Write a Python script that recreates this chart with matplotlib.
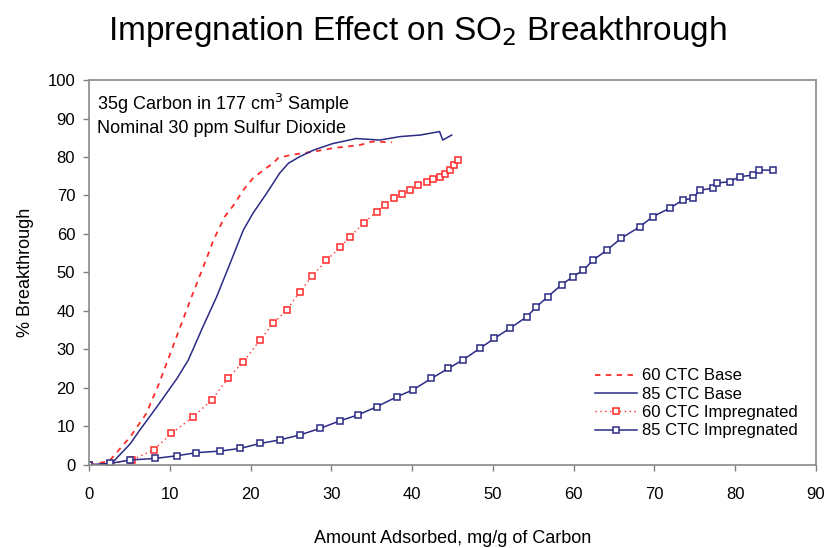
import matplotlib.pyplot as plt

plt.rcParams["font.family"] = ["Liberation Sans", "DejaVu Sans"]

# 60 CTC Base
base60_x = [0, 2.5, 5.1, 7.1, 8.6, 10.0, 11.3, 12.7, 13.5, 14.8, 15.4, 16.8, 17.9,
            19.1, 20.3, 21.6, 22.8, 23.4, 24.9, 26.5, 27.8, 30.2, 33.5, 35.1, 37.5]
base60_y = [0, 1.0, 7.3, 13.4, 20.8, 28.6, 35.9, 43.7, 48.0, 55.0, 58.4, 64.5, 67.5,
            71.4, 74.5, 76.6, 78.4, 79.7, 80.5, 81.0, 81.4, 82.3, 83.1, 84.0, 83.8]

# 85 CTC Base
base85_x = [0, 2.8, 5.1, 6.3, 8.4, 10.9, 12.3, 14.1, 15.8, 17.3, 19.1, 20.3, 22.0,
            23.6, 24.7, 26.1, 27.8, 30.2, 33.1, 36.0, 38.5, 41.0, 43.4, 43.8, 44.9]
base85_y = [0, 0.4, 5.5, 9.1, 15.1, 22.5, 27.3, 35.9, 43.7, 51.5, 61.0, 65.4, 70.6,
            75.8, 78.4, 80.1, 81.8, 83.5, 84.8, 84.4, 85.3, 85.7, 86.6, 84.4, 85.7]

# 60 CTC Impregnated
imp60_x = [0, 2.6, 5.3, 8.0, 10.2, 12.9, 15.2, 17.2, 19.1, 21.2, 22.8, 24.5, 26.1,
           27.6, 29.4, 31.1, 32.3, 34.0, 35.6, 36.6, 37.7, 38.7, 39.7, 40.7, 41.8,
           42.6, 43.4, 44.1, 44.7, 45.2, 45.7]
imp60_y = [0, 0.3, 1.3, 3.9, 8.2, 12.5, 16.9, 22.5, 26.8, 32.5, 36.8, 40.3, 45.0,
           49.0, 53.2, 56.5, 59.3, 62.8, 65.8, 67.6, 69.3, 70.4, 71.4, 72.6, 73.6,
           74.3, 74.9, 75.6, 76.6, 77.8, 79.2]

# 85 CTC Impregnated
imp85_x = [0, 2.6, 5.1, 8.2, 10.9, 13.3, 16.2, 18.7, 21.2, 23.6, 26.1, 28.6, 31.1,
           33.3, 35.6, 38.1, 40.1, 42.4, 44.5, 46.3, 48.4, 50.2, 52.1, 54.2, 55.4,
           56.8, 58.5, 59.9, 61.2, 62.4, 64.1, 65.9, 68.2, 69.8, 71.9, 73.5, 74.8,
           75.6, 77.3, 77.7, 79.3, 80.6, 82.2, 83.0, 84.7]
imp85_y = [0, 0.4, 1.3, 1.7, 2.4, 3.2, 3.6, 4.3, 5.6, 6.5, 7.8, 9.5, 11.5,
           13.0, 15.1, 17.7, 19.5, 22.5, 25.1, 27.3, 30.3, 32.9, 35.5, 38.5, 41.1,
           43.7, 46.8, 48.9, 50.6, 53.2, 55.8, 58.9, 61.9, 64.5, 66.7, 68.8, 69.3,
           71.4, 71.9, 73.2, 73.6, 74.9, 75.3, 76.6, 76.6]

RED = "#ff2a2a"
NAVY = "#2b2b85"

fig = plt.figure(figsize=(8.36, 5.48), dpi=100)
ax = fig.add_axes([0.1065, 0.1515, 0.8695, 0.7025])

ax.plot(base60_x, base60_y, color=RED, lw=1.3, ls=(0, (3, 3)), label="60 CTC Base")
ax.plot(base85_x, base85_y, color=NAVY, lw=1.1, label="85 CTC Base")
ax.plot(imp60_x, imp60_y, color=RED, lw=1.0, ls=(0, (1, 2.5)), marker="s",
        ms=5, mfc="white", mec=RED, mew=1.1, label="60 CTC Impregnated")
ax.plot(imp85_x, imp85_y, color=NAVY, lw=1.1, marker="s", ms=4,
        mfc="white", mec=NAVY, mew=1.1, label="85 CTC Impregnated")

ax.set_xlim(0, 90)
ax.set_ylim(0, 100)
ax.set_xticks(range(0, 91, 10))
ax.set_yticks(range(0, 101, 10))
ax.tick_params(direction="out", length=4, width=1, color="#808080",
               labelsize=12, pad=6)
ax.tick_params(axis="x", pad=12)
for s in ax.spines.values():
    s.set_color("#8a8a8a")
    s.set_linewidth(1.2)

ax.set_xlabel("Amount Adsorbed, mg/g of Carbon", fontsize=13, labelpad=20)
ax.set_ylabel("% Breakthrough", fontsize=13, labelpad=10)

ax.text(0.011, 0.97, "35g Carbon in 177 cm$^3$ Sample\nNominal 30 ppm Sulfur Dioxide",
        transform=ax.transAxes, ha="left", va="top", fontsize=13, linespacing=1.3)

ax.legend(loc="lower right", bbox_to_anchor=(0.995, 0.03), frameon=False,
          fontsize=12, handlelength=2.5, handletextpad=0.3, labelspacing=0.2)

fig.suptitle("Impregnation Effect on SO$_2$ Breakthrough", fontsize=24, y=0.975)

fig.savefig("out.png", dpi=100)
